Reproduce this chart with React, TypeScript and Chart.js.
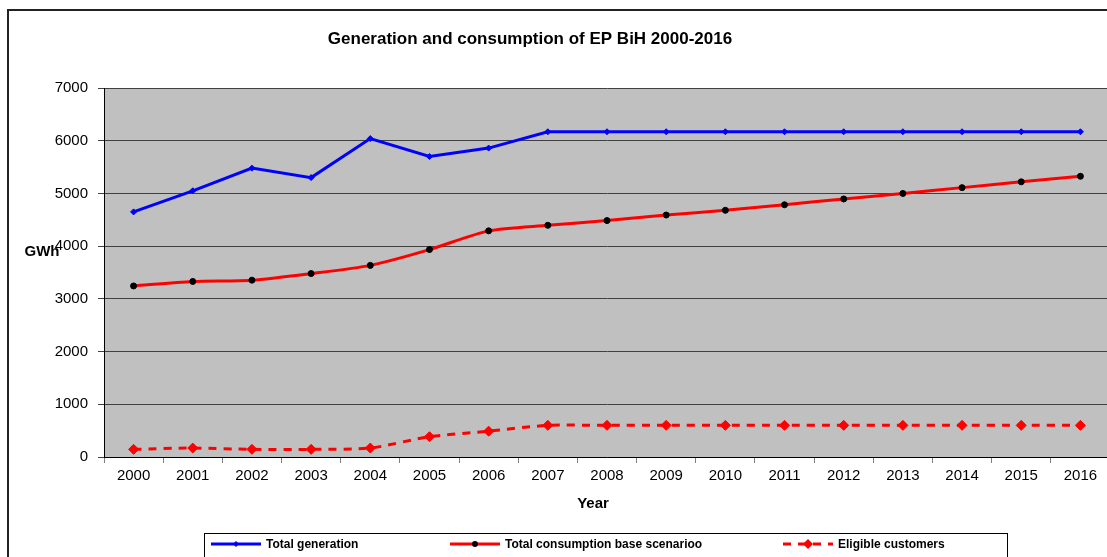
import React, { useEffect, useRef } from 'react';
import { Chart, registerables } from 'chart.js';

Chart.register(...registerables);

const years = ['2000', '2001', '2002', '2003', '2004', '2005', '2006', '2007', '2008', '2009', '2010', '2011', '2012', '2013', '2014', '2015', '2016'];
const totalGeneration = [4650, 5050, 5480, 5300, 6040, 5700, 5860, 6170, 6170, 6170, 6170, 6170, 6170, 6170, 6170, 6170, 6170];
const totalConsumption = [3245, 3330, 3355, 3480, 3635, 3935, 4290, 4395, 4485, 4590, 4680, 4785, 4895, 5000, 5110, 5220, 5325];
const eligibleCustomers = [145, 170, 145, 145, 170, 385, 490, 600, 600, 600, 600, 600, 600, 600, 600, 600, 600];

const seriesNames = ['Total generation', 'Total consumption base scenarioo', 'Eligible customers'];
const chartTitle = 'Generation and consumption of EP BiH 2000-2016';
const xTitle = 'Year';
const yTitle = 'GWh';

const FONT = "'Liberation Sans', Arial, sans-serif";

const decorPlugin = {
  id: 'decor',
  beforeDraw(chart: any) {
    const { ctx, chartArea } = chart;
    ctx.save();
    ctx.fillStyle = '#C0C0C0';
    ctx.fillRect(chartArea.left, chartArea.top, chartArea.right - chartArea.left, chartArea.bottom - chartArea.top);
    ctx.restore();
  },
  afterDraw(chart: any) {
    const { ctx, chartArea } = chart;
    ctx.save();
    ctx.fillStyle = '#000';
    ctx.textAlign = 'center';
    ctx.textBaseline = 'middle';
    ctx.font = `bold 17px ${FONT}`;
    ctx.fillText(chartTitle, 530, 39);
    ctx.font = `bold 15px ${FONT}`;
    ctx.fillText(xTitle, 593, chartArea.bottom + 47);
    ctx.font = `bold 15px ${FONT}`;
    ctx.fillText(yTitle, 42, 252);

    // legend
    const boxTop = 533;
    ctx.strokeStyle = '#000';
    ctx.lineWidth = 1;
    ctx.strokeRect(204.5, boxTop + 0.5, 803, 40);
    const starts = [211, 450, 783];
    const ly = 544;
    chart.data.datasets.forEach((ds: any, i: number) => {
      const x0 = starts[i];
      const x1 = x0 + 50;
      ctx.save();
      ctx.strokeStyle = ds.borderColor;
      ctx.lineWidth = ds.borderWidth;
      ctx.setLineDash(ds.borderDash || []);
      ctx.beginPath();
      ctx.moveTo(x0, ly);
      ctx.lineTo(x1, ly);
      ctx.stroke();
      ctx.setLineDash([]);
      const cx = (x0 + x1) / 2;
      ctx.fillStyle = ds.pointBackgroundColor;
      ctx.beginPath();
      const r = ds.pointRadius;
      if (ds.pointStyle === 'rectRot') {
        ctx.moveTo(cx, ly - r);
        ctx.lineTo(cx + r, ly);
        ctx.lineTo(cx, ly + r);
        ctx.lineTo(cx - r, ly);
        ctx.closePath();
      } else {
        ctx.arc(cx, ly, r, 0, Math.PI * 2);
      }
      ctx.fill();
      ctx.restore();
      ctx.fillStyle = '#000';
      ctx.textAlign = 'left';
      ctx.font = `bold 12px ${FONT}`;
      ctx.fillText(ds.label, x1 + 5, ly + 1);
    });
    ctx.restore();
  },
};

export default function App() {
  const canvasRef = useRef<HTMLCanvasElement | null>(null);

  useEffect(() => {
    if (!canvasRef.current) return;
    const chart = new Chart(canvasRef.current, {
      type: 'line',
      data: {
        labels: years,
        datasets: [
          {
            label: seriesNames[0],
            data: totalGeneration,
            borderColor: '#0000FF',
            backgroundColor: '#0000FF',
            borderWidth: 3,
            pointStyle: 'rectRot',
            pointRadius: 3,
            pointBackgroundColor: '#0000FF',
            pointBorderColor: '#0000FF',
            pointBorderWidth: 1,
            tension: 0,
          },
          {
            label: seriesNames[1],
            data: totalConsumption,
            borderColor: '#FF0000',
            backgroundColor: '#FF0000',
            borderWidth: 3,
            pointStyle: 'circle',
            pointRadius: 3,
            pointBackgroundColor: '#000000',
            pointBorderColor: '#000000',
            pointBorderWidth: 1,
            tension: 0.25,
          },
          {
            label: seriesNames[2],
            data: eligibleCustomers,
            borderColor: '#FF0000',
            backgroundColor: '#FF0000',
            borderWidth: 3,
            borderDash: [8, 7],
            pointStyle: 'rectRot',
            pointRadius: 5,
            pointBackgroundColor: '#FF0000',
            pointBorderColor: '#FF0000',
            pointBorderWidth: 1,
            tension: 0.25,
          },
        ],
      },
      options: {
        responsive: false,
        animation: false,
        layout: { padding: { left: 0, top: 88, right: 6, bottom: 40 } },
        plugins: {
          legend: { display: false },
          title: { display: false },
          tooltip: { enabled: false },
        },
        scales: {
          x: {
            offset: true,
            grid: { display: true, drawOnChartArea: false, offset: true, tickLength: 6, color: '#808080' },
            border: { display: true, color: '#000', width: 1 },
            ticks: { color: '#000', font: { family: FONT, size: 15 }, padding: 4, maxRotation: 0, autoSkip: false },
            afterFit: (scale: any) => { scale.height = 60; },
          },
          y: {
            min: 0,
            max: 7000,
            ticks: {
              stepSize: 1000,
              color: '#000',
              font: { family: FONT, size: 15 },
              padding: 10,
              callback: (v: any) => String(v),
            },
            grid: { color: '#404040', lineWidth: 1, tickLength: 6 },
            border: { display: true, color: '#000', width: 1 },
            afterFit: (scale: any) => { scale.width = 104; },
          },
        },
      },
      plugins: [decorPlugin],
    });
    return () => chart.destroy();
  }, []);

  return (
    <div style={{ position: 'fixed', left: 0, top: 0, width: 1107, height: 557, overflow: 'hidden', background: '#fff' }}>
      <div style={{ position: 'absolute', left: 7, top: 9, width: 1300, height: 700, border: '2px solid #222', boxSizing: 'border-box' }} />
      <canvas ref={canvasRef} width={1116} height={557} style={{ position: 'absolute', left: 0, top: 0, width: 1116, height: 557 }} />
    </div>
  );
}
